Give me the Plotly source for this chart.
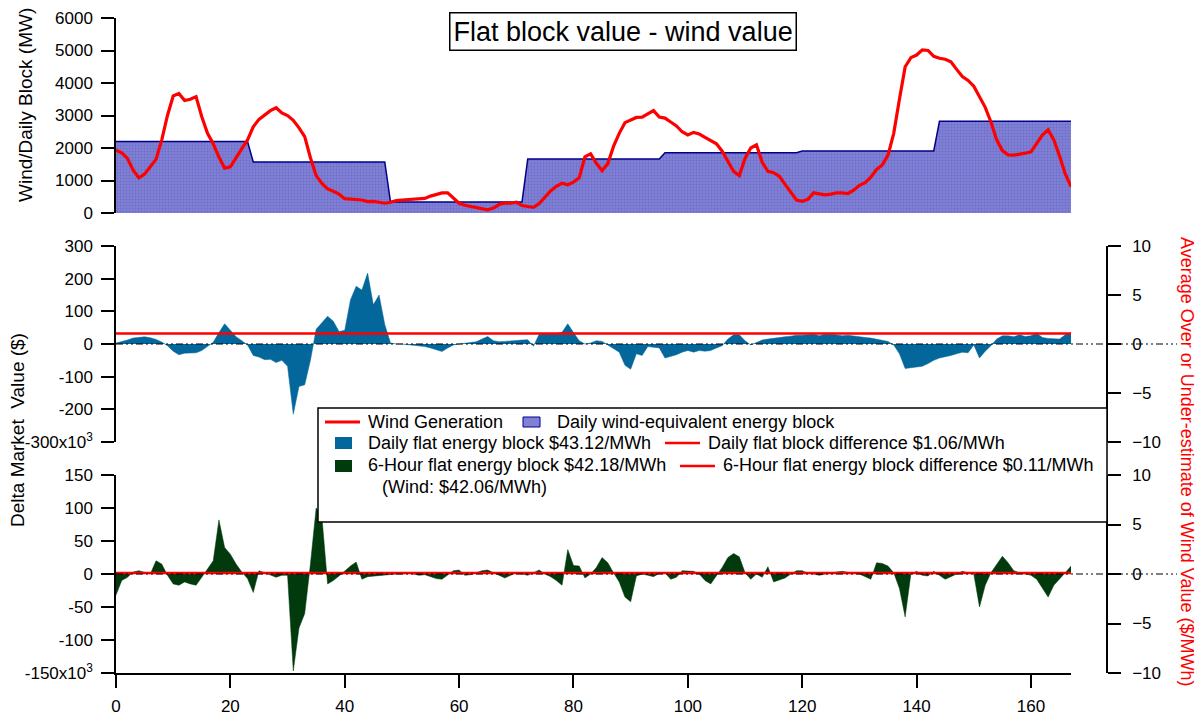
import plotly.graph_objects as go

# ---- data -------------------------------------------------------------
hours = list(range(168))

# hourly wind generation (MW)
wind_mw = [
    1930, 1850, 1680, 1320, 1080, 1200, 1420, 1650, 2250, 3000, 3600, 3680,
    3460, 3500, 3580, 2960, 2450, 2130, 1720, 1380, 1420, 1680, 1980, 2250,
    2650, 2880, 3030, 3150, 3240, 3080, 3000, 2850, 2620, 2350, 1700, 1150,
    910, 740, 670, 580, 440, 430, 425, 400, 350, 360, 330, 300,
    330, 380, 400, 410, 420, 430, 450, 520, 580, 620, 620, 450,
    300, 240, 210, 185, 150, 100, 150, 260, 310, 300, 330, 230,
    200, 175, 290, 480, 680, 820, 920, 870, 950, 1080, 1730, 1820,
    1530, 1300, 1520, 2050, 2450, 2780, 2870, 2940, 2950, 3050, 3150, 2950,
    2920, 2800, 2680, 2500, 2400, 2480, 2430, 2330, 2230, 2130, 1900, 1600,
    1280, 1150, 1680, 2000, 2100, 1560, 1280, 1240, 1130, 880, 620, 400,
    360, 420, 620, 600, 560, 580, 620, 620, 600, 700, 850, 930,
    1100, 1340, 1480, 1780, 2450, 3500, 4500, 4780, 4860, 5020, 5000, 4820,
    4760, 4730, 4650, 4420, 4200, 4080, 3900, 3580, 3250, 2800, 2250, 1920,
    1790, 1780, 1800, 1840, 1880, 2120, 2400, 2560, 2250, 1750, 1200, 810,
]

# daily wind-equivalent energy block (MW), one value per day
daily_block_mw = [2200, 1570, 340, 1660, 1855, 1910, 2820]
block_mw = [daily_block_mw[h // 24] for h in hours]

# delta market value of the daily flat block (x10^3 $)
daily_delta_k = [
    3, 7, 12, 18, 21, 22, 19, 14, 6, -5, -22, -33,
    -28, -27, -27, -20, -8, 5, 35, 62, 42, 22, 10, -3,
    -35, -40, -48, -47, -57, -50, -68, -215, -130, -125, -50, 45,
    65, 85, 70, 38, 42, 135, 177, 165, 217, 120, 150, 60,
    3, 0, 0, -2, -3, -5, -8, -12, -18, -23, -12, -3,
    0, 2, 4, 7, 15, 23, 10, 7, 8, 10, 11, 12,
    13, -7, 30, 30, 30, 32, 36, 62, 35, 10, 0, 3,
    10, 8, -3, -15, -25, -65, -77, -30, -35, -8, -9, -12,
    -43, -38, -33, -25, -20, -25, -20, -22, -20, -12, -5, 15,
    28, 28, 10, -3, 5, 12, 15, 18, 20, 22, 24, 27,
    27, 28, 30, 25, 30, 30, 28, 25, 27, 24, 22, 20,
    18, 15, 12, 8, -3, -30, -75, -73, -72, -68, -60, -50,
    -43, -40, -35, -30, -25, -27, -3, -43, -22, -5, 15, 25,
    25, 22, 28, 23, 25, 33, 20, 17, 15, 15, 28, 35,
]

# delta market value of the 6-hour flat block (x10^3 $)
six_hour_delta_k = [
    -32, -10, -5, 3, 5, 3, 0, 20, 15, -2, -15, -17,
    -12, -15, -17, -5, 8, 20, 82, 40, 30, 15, 3, -7,
    -28, 5, 2, -2, -5, -2, -2, -147, -82, -60, 15, 100,
    87, -15, -10, -3, 5, 12, 18, -8, -4, -3, -2, -1,
    0, 0, 0, 1, 0, -2, -1, -4, -7, -8, -2, 5,
    6, -2, -1, 2, 5, 6, 2, -3, -6, -2, 2, 0,
    -2, 2, 6, 0, -4, -10, -17, 37, 13, 12, -6, 0,
    10, 25, 17, 2, -12, -35, -42, -3, 0, -2, -4, 1,
    2, -8, -5, 5, 4, 4, 0, -10, -15, -3, 10, 25,
    31, 26, 2, -8, 0, -5, 11, -12, -9, -6, 0, 5,
    5, 1, 0, -2, 0, 2, 3, 4, 2, 1, 0, -4,
    -8, 17, 16, 12, 2, -22, -65, 0, 4, -2, -3, 4,
    -2, -8, -4, 0, 4, 2, 0, -50, -17, 2, 15, 27,
    17, 5, 2, 0, -2, -8, -22, -35, -17, -8, 2, 12,
]

# average over/under-estimate of wind value ($/MWh)
daily_diff = 1.06
six_hour_diff = 0.11

x_ticks = [0, 20, 40, 60, 80, 100, 120, 140, 160]
top_ticks = [0, 1000, 2000, 3000, 4000, 5000, 6000]
mid_ticks = [-300, -200, -100, 0, 100, 200, 300]
mid_tick_text = ["-300x10<sup>3</sup>", "-200", "-100", "0", "100", "200", "300"]
bot_ticks = [-150, -100, -50, 0, 50, 100, 150]
bot_tick_text = ["-150x10<sup>3</sup>", "-100", "-50", "0", "50", "100", "150"]
right_ticks = [-10, -5, 0, 5, 10]

# ---- styling ----------------------------------------------------------
W, H = 1199, 715
FONT = "Liberation Sans, Arial, sans-serif"
RED = "#ff0000"
BLOCK_FILL = "#8080d4"
BLOCK_LINE = "#00008b"
DAILY_BLUE = "#04679b"
SIX_GREEN = "#013a0c"


def fx(px):
    return px / W


def fy(py):
    return 1 - py / H


x_dom = [fx(116), fx(1071)]
right_pos = fx(1107)

fig = go.Figure()

# top panel: block and wind generation
fig.add_trace(go.Scatter(
    x=hours, y=block_mw, xaxis="x", yaxis="y", mode="lines",
    line=dict(color=BLOCK_LINE, width=1.5), fill="tozeroy",
    fillcolor=BLOCK_FILL,
    fillpattern=dict(shape=".", size=3, solidity=0.35,
                     fgcolor="#5a5ac4", bgcolor=BLOCK_FILL),
    showlegend=False, hoverinfo="skip"))
fig.add_trace(go.Scatter(
    x=hours, y=wind_mw, xaxis="x", yaxis="y", mode="lines",
    line=dict(color=RED, width=3.2), showlegend=False))

# middle panel: daily flat block
fig.add_trace(go.Scatter(
    x=hours, y=daily_delta_k, xaxis="x", yaxis="y2", mode="lines",
    line=dict(color=DAILY_BLUE, width=0.5), fill="tozeroy",
    fillcolor=DAILY_BLUE, showlegend=False))
fig.add_trace(go.Scatter(
    x=[hours[0], hours[-1]], y=[daily_diff, daily_diff], xaxis="x", yaxis="y3",
    mode="lines", line=dict(color=RED, width=2.5), showlegend=False))

# bottom panel: 6-hour flat block
fig.add_trace(go.Scatter(
    x=hours, y=six_hour_delta_k, xaxis="x", yaxis="y4", mode="lines",
    line=dict(color=SIX_GREEN, width=0.5), fill="tozeroy",
    fillcolor=SIX_GREEN, showlegend=False))
fig.add_trace(go.Scatter(
    x=[hours[0], hours[-1]], y=[six_hour_diff, six_hour_diff], xaxis="x", yaxis="y5",
    mode="lines", line=dict(color=RED, width=2.5), showlegend=False))

axis_common = dict(
    automargin=False,
    showline=True, linecolor="black", linewidth=1.5,
    ticks="outside", ticklen=13, tickwidth=1.5, tickcolor="black",
    showgrid=False, zeroline=False,
    tickfont=dict(family=FONT, size=17, color="black"),
)

fig.update_layout(
    width=W, height=H, autosize=False,
    margin=dict(l=0, r=0, t=0, b=0, pad=0),
    paper_bgcolor="white", plot_bgcolor="white",
    showlegend=False,
    xaxis=dict(domain=x_dom, range=[0, 167], anchor="y4",
               tickvals=x_ticks, ticklabelstandoff=4, **axis_common),
    yaxis=dict(domain=[fy(213), fy(18)], range=[0, 6000], anchor="x",
               tickvals=top_ticks, ticksuffix="\u00a0\u00a0",
               ticklabelstandoff=5, **axis_common),
    yaxis2=dict(domain=[fy(442), fy(246)], range=[-300, 300], anchor="x",
                tickvals=mid_ticks, ticktext=mid_tick_text,
                ticklabelstandoff=5, **axis_common),
    yaxis3=dict(overlaying="y2", side="right", anchor="free", position=right_pos,
                range=[-10, 10], tickvals=right_ticks,
                ticklabelstandoff=8, **axis_common),
    yaxis4=dict(domain=[fy(673), fy(475)], range=[-150, 150], anchor="x",
                tickvals=bot_ticks, ticktext=bot_tick_text,
                ticklabelstandoff=5, **axis_common),
    yaxis5=dict(overlaying="y4", side="right", anchor="free", position=right_pos,
                range=[-10, 10], tickvals=right_ticks,
                ticklabelstandoff=8, **axis_common),
)

shapes = []
# dash-dot zero references on the right-hand axes
for yref in ("y3", "y5"):
    shapes.append(dict(type="line", xref="paper", yref=yref,
                       x0=fx(116), x1=fx(1177), y0=0, y1=0,
                       line=dict(color="black", width=1.2,
                                 dash="7px,3px,2px,3px,2px,3px")))

# legend box
shapes.append(dict(type="rect", xref="paper", yref="paper",
                   x0=fx(318), x1=fx(1107), y0=fy(522), y1=fy(408),
                   line=dict(color="black", width=1.5), fillcolor="white"))


def hline(x0, x1, y, color, width):
    return dict(type="line", xref="paper", yref="paper",
                x0=fx(x0), x1=fx(x1), y0=fy(y), y1=fy(y),
                line=dict(color=color, width=width))


def swatch(x0, x1, y0, y1, fill, line_color, line_width):
    return dict(type="rect", xref="paper", yref="paper",
                x0=fx(x0), x1=fx(x1), y0=fy(y1), y1=fy(y0),
                fillcolor=fill, line=dict(color=line_color, width=line_width))


shapes += [
    hline(325, 360, 422, RED, 3),
    swatch(523, 540, 417, 427, BLOCK_FILL, BLOCK_LINE, 1),
    swatch(335, 352, 437, 449, DAILY_BLUE, DAILY_BLUE, 0),
    hline(665, 700, 443, RED, 2.5),
    swatch(335, 352, 460, 472, SIX_GREEN, SIX_GREEN, 0),
    hline(680, 715, 466, RED, 2.5),
]

annotations = []


def label(text, x, y, size=18, color="black", angle=0, anchor="left"):
    annotations.append(dict(
        text=text, x=fx(x), y=fy(y), xref="paper", yref="paper",
        xanchor=anchor, yanchor="middle", showarrow=False, textangle=angle,
        font=dict(family=FONT, size=size, color=color)))


label("Wind Generation", 366, 422)
label("Daily wind-equivalent energy block", 555, 422)
label("Daily flat energy block $43.12/MWh", 366, 443)
label("Daily flat block difference $1.06/MWh", 706, 443)
label("6-Hour flat energy block $42.18/MWh", 366, 465)
label("6-Hour flat energy block difference $0.11/MWh", 721, 465)
label("(Wind: $42.06/MWh)", 380, 487)

# axis titles
label("Wind/Daily Block (MW)", 25, 105, size=19, angle=-90, anchor="center")
label("Delta Market\u00a0 Value ($)", 18, 430, size=19, angle=-90, anchor="center")
label("Average Over or Under-estimate of Wind Value ($/MWh)", 1187, 462,
      size=18, color=RED, angle=90, anchor="center")

# boxed title
annotations.append(dict(
    text="Flat block value - wind value", x=fx(623), y=fy(32),
    xref="paper", yref="paper", xanchor="center", yanchor="middle",
    showarrow=False, font=dict(family=FONT, size=27, color="black"),
    bordercolor="black", borderwidth=1.5, borderpad=3, bgcolor="white"))

fig.update_layout(shapes=shapes, annotations=annotations)

fig.write_html("out.html")
